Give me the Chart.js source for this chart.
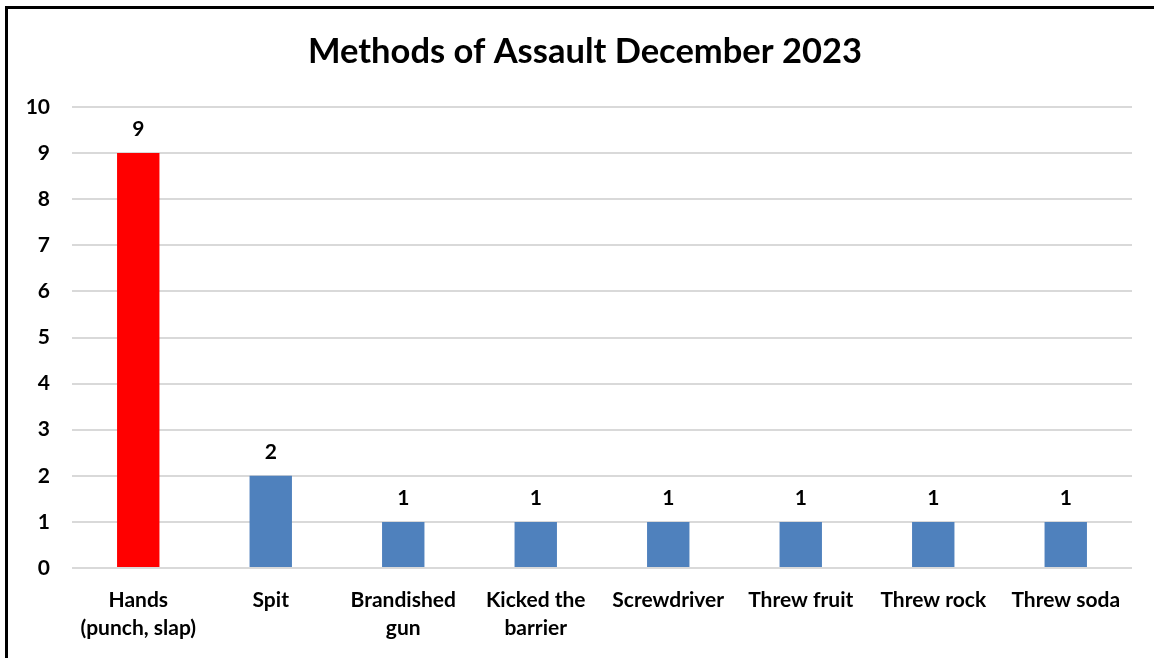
<!DOCTYPE html>
<html>
<head>
<meta charset="utf-8">
<script src="https://cdn.jsdelivr.net/npm/chart.js@4"></script>
<style>
  html, body { margin: 0; padding: 0; background: #fff; }
  #wrap { position: absolute; left: 0; top: 0; width: 1154px; height: 658px; overflow: hidden; }
  #frame { position: absolute; left: 5px; top: 6px; width: 1200px; height: 700px;
           border-left: 3px solid #000; border-top: 3px solid #000; pointer-events: none; }
  canvas { position: absolute; left: 0; top: 0; }
</style>
</head>
<body>
<div id="wrap">
  <canvas id="chart" width="1154" height="658"></canvas>
  <div id="frame"></div>
</div>
<script>
// Data
const chartTitle = 'Methods of Assault December 2023';
const categories = [
    ['Hands', '(punch, slap)'],
    'Spit',
    ['Brandished', 'gun'],
    ['Kicked the', 'barrier'],
    'Screwdriver',
    'Threw fruit',
    'Threw rock',
    'Threw soda'
];
const counts = [9, 2, 1, 1, 1, 1, 1, 1];
const barColors = ['#FF0000', '#4F81BD', '#4F81BD', '#4F81BD', '#4F81BD', '#4F81BD', '#4F81BD', '#4F81BD'];
const yTicks = [0, 1, 2, 3, 4, 5, 6, 7, 8, 9, 10];

const FONT = "Lato, 'Open Sans', sans-serif";
Chart.defaults.font.family = FONT;
Chart.defaults.color = '#000';

// value labels above each bar + title centred on the frame (not the plot)
const extras = {
    id: 'extras',
    afterDatasetsDraw(chart) {
        const ctx = chart.ctx;
        const meta = chart.getDatasetMeta(0);
        ctx.save();
        ctx.font = 'bold 21px ' + FONT;
        ctx.fillStyle = '#000';
        ctx.textAlign = 'center';
        ctx.textBaseline = 'middle';
        meta.data.forEach((bar, i) => {
            ctx.fillText(String(counts[i]), bar.x, bar.y - 24);
        });

        ctx.font = 'bold 34.5px ' + FONT;
        ctx.fillText(chartTitle, chart.width / 2 + 8, 52);
        ctx.restore();
    }
};

new Chart(document.getElementById('chart'), {
    type: 'bar',
    data: {
        labels: categories,
        datasets: [{
            data: counts,
            backgroundColor: barColors,
            borderWidth: 0,
            barPercentage: 0.32,
            categoryPercentage: 1
        }]
    },
    options: {
        responsive: false,
        animation: false,
        layout: { padding: { left: 0, right: 22, top: 107, bottom: 0 } },
        plugins: {
            legend: { display: false },
            tooltip: { enabled: false },
            title: { display: false }
        },
        scales: {
            x: {
                afterFit(scale) { scale.height = 90; },
                grid: { display: false, drawTicks: false },
                border: { display: false },
                ticks: {
                    font: { size: 21, weight: 'bold', lineHeight: 1.33 },
                    color: '#000',
                    padding: 18,
                    maxRotation: 0,
                    autoSkip: false
                }
            },
            y: {
                min: 0,
                max: 10,
                afterFit(scale) { scale.width = 72; },
                afterBuildTicks(scale) { scale.ticks = yTicks.map(v => ({ value: v })); },
                grid: { color: '#D9D9D9', lineWidth: 2, drawTicks: false },
                border: { display: false },
                ticks: {
                    font: { size: 21, weight: 'bold' },
                    color: '#000',
                    padding: 22
                }
            }
        }
    },
    plugins: [extras]
});
</script>
</body>
</html>
